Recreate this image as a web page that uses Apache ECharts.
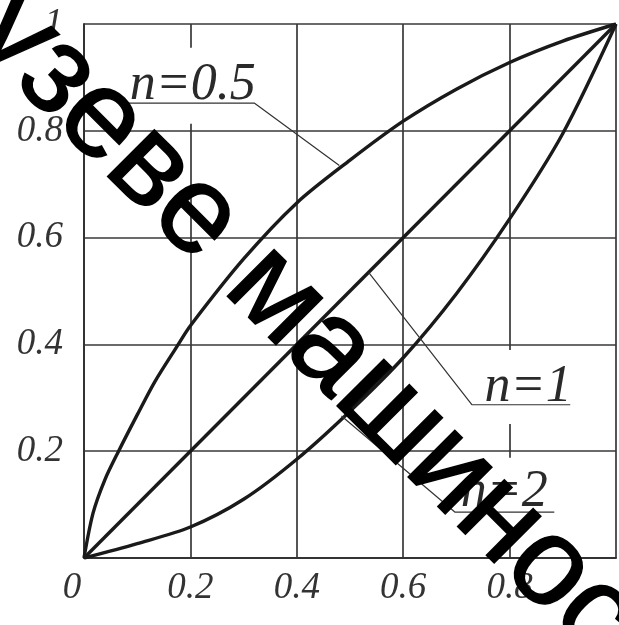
<!DOCTYPE html>
<html>
<head>
<meta charset="utf-8">
<script src="https://cdn.jsdelivr.net/npm/echarts@6/dist/echarts.min.js"></script>
<style>
  html, body { margin: 0; padding: 0; background: #fff; }
  #chart { width: 619px; height: 625px; }
</style>
</head>
<body>
<div id="chart"></div>
<script>
// Relative curves y = f(x) for three exponents n, read point by point
const halfX = [0, 0.017, 0.039, 0.065, 0.1, 0.133, 0.174, 0.2, 0.3, 0.4, 0.5, 0.6, 0.7, 0.8, 0.9, 1];
const halfY = [0, 0.084, 0.146, 0.2, 0.268, 0.33, 0.395, 0.435, 0.56, 0.665, 0.745, 0.818, 0.878, 0.928, 0.968, 1];

const oneX = [0, 1];
const oneY = [0, 1];

const twoX = [0, 0.1, 0.2, 0.3, 0.4, 0.5, 0.6, 0.7, 0.8, 0.9, 1];
const twoY = [0, 0.027, 0.058, 0.11, 0.185, 0.275, 0.375, 0.495, 0.635, 0.795, 1];

const tickValues = [0, 0.2, 0.4, 0.6, 0.8, 1];
const curveNames = ['n=0.5', 'n=1', 'n=2'];

// Leader lines (curve point -> elbow -> end of underline), in axis units
const leaderHalf = [[0.48, 0.735], [0.32, 0.852], [0.073, 0.852]];
const leaderOne = [[0.535, 0.535], [0.729, 0.287], [0.914, 0.287]];
const leaderTwo = [[0.484, 0.266], [0.697, 0.086], [0.884, 0.086]];

// Where each caption starts (left edge, vertical middle), in axis units
const captionAt = [[0.086, 0.903], [0.753, 0.341], [0.708, 0.139]];

const watermarkText = 'узеве машиностроение';

const zip = (xs, ys) => xs.map((x, i) => [x, ys[i]]);

const serif = '"Liberation Serif", "Times New Roman", serif';
const labelStyle = {
  fontFamily: serif, fontStyle: 'italic', fontSize: 37, color: '#333'
};

const curveLine = () => ({ color: '#1a1a1a', width: 3.4 });
const leaderLine = () => ({ color: '#333', width: 1.2 });

const chart = echarts.init(document.getElementById('chart'), null, { renderer: 'canvas' });

chart.setOption({
  animation: false,
  backgroundColor: '#fff',
  grid: { left: 84, top: 24, right: 0, bottom: 67, containLabel: false },
  xAxis: {
    type: 'value', min: 0, max: 1, interval: 0.2,
    axisLine: { show: true, lineStyle: { color: '#333', width: 2 } },
    axisTick: { show: false },
    splitLine: { show: true, lineStyle: { color: '#383838', width: 1.7 } },
    axisLabel: Object.assign({}, labelStyle, {
      margin: 12,
      formatter: v => v === 0 ? '{z|0}' : (v === 1 ? '' : String(Math.round(v * 10) / 10)),
      rich: { z: Object.assign({}, labelStyle, { padding: [0, 24, 0, 0] }) }
    })
  },
  yAxis: {
    type: 'value', min: 0, max: 1, interval: 0.2,
    axisLine: { show: true, lineStyle: { color: '#333', width: 2 } },
    axisTick: { show: false },
    splitLine: { show: true, lineStyle: { color: '#383838', width: 1.7 } },
    axisLabel: Object.assign({}, labelStyle, {
      margin: 21,
      formatter: v => v === 0 ? '' : String(Math.round(v * 10) / 10)
    })
  },
  series: [
    { name: curveNames[0], type: 'line', data: zip(halfX, halfY), smooth: 0.3,
      showSymbol: false, lineStyle: curveLine(), z: 3 },
    { name: curveNames[1], type: 'line', data: zip(oneX, oneY),
      showSymbol: false, lineStyle: curveLine(), z: 3 },
    { name: curveNames[2], type: 'line', data: zip(twoX, twoY), smooth: 0.3,
      showSymbol: false, lineStyle: curveLine(), z: 3 },
    { type: 'line', data: leaderHalf, showSymbol: false, lineStyle: leaderLine(), z: 4, silent: true },
    { type: 'line', data: leaderOne, showSymbol: false, lineStyle: leaderLine(), z: 4, silent: true },
    { type: 'line', data: leaderTwo, showSymbol: false, lineStyle: leaderLine(), z: 4, silent: true }
  ]
});

// Captions with a white plate that interrupts the grid behind them
const plates = [[2, 8, 22, 8], [0, 8, 22, 8], [0, 8, 18, 8]];
const graphics = curveNames.map((name, i) => {
  const p = chart.convertToPixel({ gridIndex: 0 }, captionAt[i]);
  const pad = plates[i];
  return {
    type: 'text', x: p[0] - pad[3], y: p[1] + (pad[2] - pad[0]) / 2, z: 3,
    style: {
      text: name, fill: '#2a2a2a',
      font: 'italic 52px ' + serif,
      align: 'left', verticalAlign: 'middle',
      backgroundColor: '#fff', padding: pad
    }
  };
});

// Diagonal stamp across the drawing
graphics.push({
  type: 'text', x: -7, y: 13, rotation: -Math.PI / 4, z: 10,
  style: {
    text: watermarkText, fill: '#000',
    font: '125px "Liberation Sans", Arial, sans-serif',
    align: 'left', verticalAlign: 'middle',
    stroke: '#000', lineWidth: 1.5
  }
});

chart.setOption({ graphic: graphics });
</script>
</body>
</html>
